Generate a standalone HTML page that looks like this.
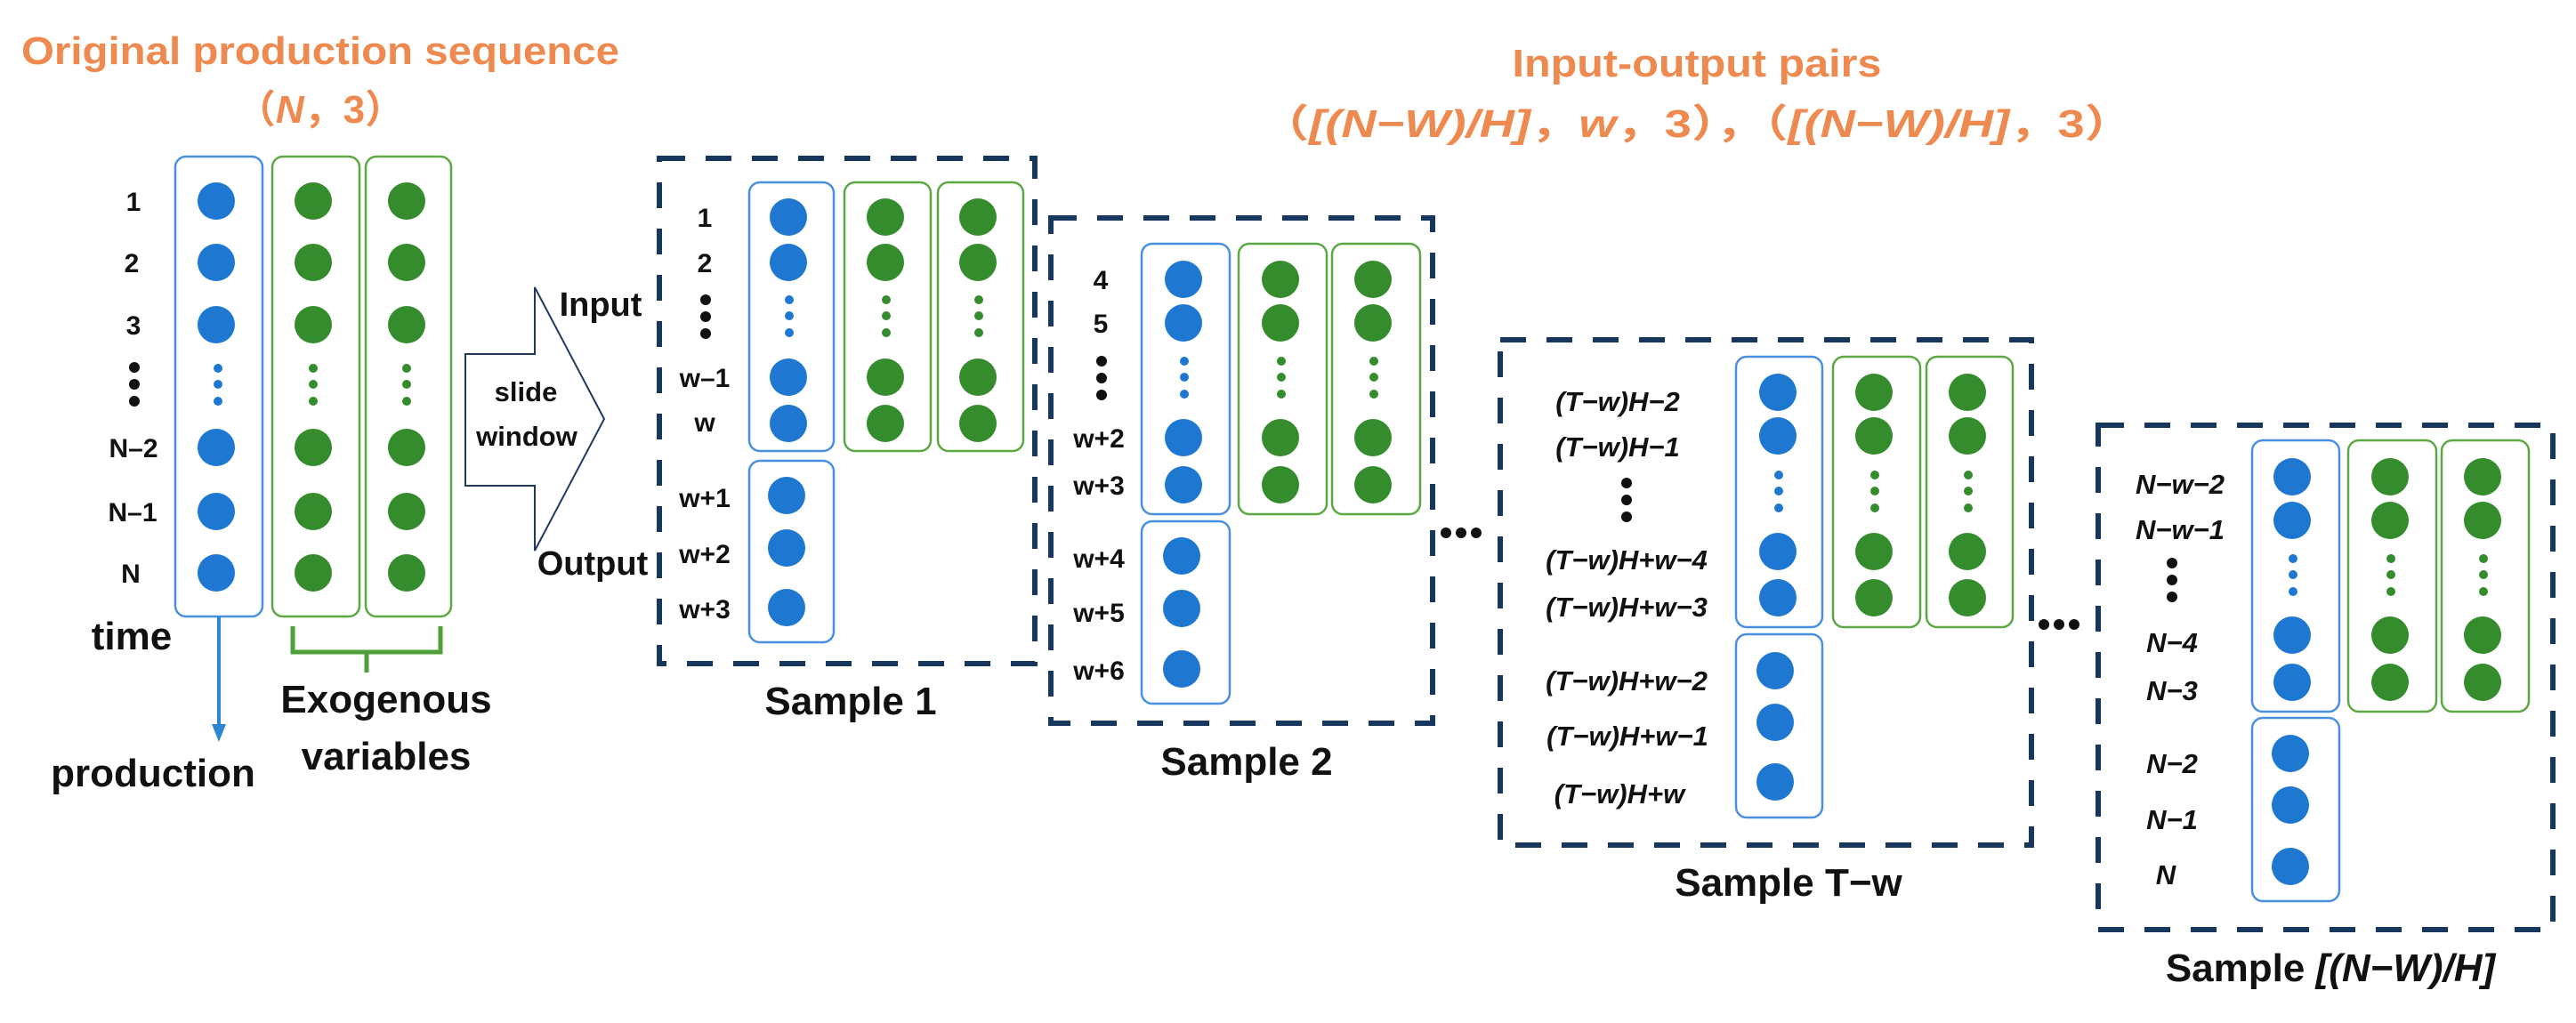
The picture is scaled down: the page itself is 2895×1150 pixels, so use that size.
<!DOCTYPE html>
<html><head><meta charset="utf-8"><style>
html,body{margin:0;padding:0;background:#fff;}
svg{display:block;}
text{font-family:"Liberation Sans","Noto Sans CJK SC",sans-serif;font-weight:bold;}
.o{fill:#EE8A4F;}
.l{font-size:30px;fill:#111;}
.i{font-size:31px;fill:#111;font-style:italic;}
.s{font-size:44px;fill:#111;}
</style></head><body>
<svg width="2895" height="1150" viewBox="0 0 2895 1150" xmlns="http://www.w3.org/2000/svg">
<defs>
<g id="bdots"><circle cx="0" cy="0" r="5" fill="#1E78D2"/><circle cx="0" cy="18" r="5" fill="#1E78D2"/><circle cx="0" cy="37" r="5" fill="#1E78D2"/></g>
<g id="gdots"><circle cx="0" cy="0" r="5" fill="#358C2C"/><circle cx="0" cy="18" r="5" fill="#358C2C"/><circle cx="0" cy="37" r="5" fill="#358C2C"/></g>
<g id="kdots"><circle cx="0" cy="0" r="6" fill="#111"/><circle cx="0" cy="19" r="6" fill="#111"/><circle cx="0" cy="38" r="6" fill="#111"/></g>
<g id="hdots"><circle cx="0" cy="0" r="6" fill="#111"/><circle cx="17" cy="0" r="6" fill="#111"/><circle cx="34" cy="0" r="6" fill="#111"/></g>
</defs>

<!-- Titles -->
<text class="o" x="360" y="72" font-size="44" text-anchor="middle" textLength="672" lengthAdjust="spacingAndGlyphs">Original production sequence</text>
<text class="o" x="360" y="138" font-size="44" text-anchor="middle">（<tspan font-style="italic">N</tspan>，3）</text>
<text class="o" x="1907" y="86" font-size="44" text-anchor="middle" textLength="415" lengthAdjust="spacingAndGlyphs">Input-output pairs</text>
<text class="o" x="1907" y="154" font-size="44" text-anchor="middle" textLength="980" lengthAdjust="spacingAndGlyphs">（<tspan font-style="italic">[(N−W)/H]</tspan>，<tspan font-style="italic">w</tspan>，3），（<tspan font-style="italic">[(N−W)/H]</tspan>，3）</text>

<!-- Left original sequence -->
<g fill="none" stroke-width="2.5">
<rect x="197" y="176" width="98" height="517" rx="12" stroke="#4A90E2"/>
<rect x="306" y="176" width="98" height="517" rx="12" stroke="#5DA845"/>
<rect x="411" y="176" width="96" height="517" rx="12" stroke="#5DA845"/>
</g>
<g fill="#1E78D2"><circle cx="243" cy="226" r="21"/><circle cx="243" cy="295" r="21"/><circle cx="243" cy="365" r="21"/><circle cx="243" cy="503" r="21"/><circle cx="243" cy="575" r="21"/><circle cx="243" cy="644" r="21"/></g>
<g fill="#358C2C"><circle cx="352" cy="226" r="21"/><circle cx="352" cy="295" r="21"/><circle cx="352" cy="365" r="21"/><circle cx="352" cy="503" r="21"/><circle cx="352" cy="575" r="21"/><circle cx="352" cy="644" r="21"/>
<circle cx="457" cy="226" r="21"/><circle cx="457" cy="295" r="21"/><circle cx="457" cy="365" r="21"/><circle cx="457" cy="503" r="21"/><circle cx="457" cy="575" r="21"/><circle cx="457" cy="644" r="21"/></g>
<use href="#bdots" x="245" y="414"/><use href="#gdots" x="352" y="414"/><use href="#gdots" x="457" y="414"/>
<g class="l" text-anchor="middle"><text x="150" y="237">1</text><text x="148" y="306">2</text><text x="150" y="376">3</text><text x="150" y="514">N–2</text><text x="149" y="586">N–1</text><text x="147" y="655">N</text></g>
<use href="#kdots" x="151" y="413"/>
<text class="s" x="148" y="730" text-anchor="middle">time</text>
<line x1="246" y1="693" x2="246" y2="818" stroke="#2D86D1" stroke-width="4"/>
<polygon points="238,814 254,814 246,834" fill="#2D86D1"/>
<text class="s" x="172" y="884" text-anchor="middle">production</text>
<path d="M329,704 V733 H495 V704 M412,733 V756" fill="none" stroke="#4F9F3A" stroke-width="5"/>
<text class="s" x="434" y="801" text-anchor="middle">Exogenous</text>
<text class="s" x="434" y="865" text-anchor="middle">variables</text>

<!-- Slide window arrow -->
<polygon points="523,398 601,398 601,323 679,471 601,619 601,546 523,546" fill="#fff" stroke="#1F3A5F" stroke-width="2"/>
<text x="591" y="451" font-size="31" text-anchor="middle" fill="#111">slide</text>
<text x="592" y="501" font-size="31" text-anchor="middle" fill="#111">window</text>
<text x="675" y="355" font-size="38" text-anchor="middle" fill="#111">Input</text>
<text x="666" y="646" font-size="38" text-anchor="middle" fill="#111">Output</text>

<!-- Dashed sample boxes -->
<g fill="none" stroke="#17375E" stroke-width="6" stroke-dasharray="29 23">
<rect x="741" y="178" width="422" height="568"/>
<rect x="1181" y="245" width="429" height="568"/>
<rect x="1686" y="382" width="597" height="568"/>
<rect x="2358" y="478" width="511" height="567"/>
</g>

<!-- Sample 1 -->
<g fill="none" stroke-width="2.5">
<rect x="842" y="205" width="95" height="302" rx="12" stroke="#4A90E2"/>
<rect x="949" y="205" width="97" height="302" rx="12" stroke="#5DA845"/>
<rect x="1054" y="205" width="96" height="302" rx="12" stroke="#5DA845"/>
<rect x="842" y="518" width="95" height="204" rx="12" stroke="#4A90E2"/>
</g>
<g fill="#1E78D2"><circle cx="886" cy="244" r="21"/><circle cx="886" cy="295" r="21"/><circle cx="886" cy="424" r="21"/><circle cx="886" cy="476" r="21"/><circle cx="884" cy="557" r="21"/><circle cx="884" cy="616" r="21"/><circle cx="884" cy="683" r="21"/></g>
<g fill="#358C2C"><circle cx="995" cy="244" r="21"/><circle cx="995" cy="295" r="21"/><circle cx="995" cy="424" r="21"/><circle cx="995" cy="476" r="21"/><circle cx="1099" cy="244" r="21"/><circle cx="1099" cy="295" r="21"/><circle cx="1099" cy="424" r="21"/><circle cx="1099" cy="476" r="21"/></g>
<use href="#bdots" x="887" y="337"/><use href="#gdots" x="996" y="337"/><use href="#gdots" x="1100" y="337"/>
<g class="l" text-anchor="middle"><text x="792" y="255">1</text><text x="792" y="306">2</text><text x="792" y="435">w–1</text><text x="792" y="485">w</text><text x="792" y="570">w+1</text><text x="792" y="633">w+2</text><text x="792" y="695">w+3</text></g>
<use href="#kdots" x="793" y="337"/>
<text class="s" x="956" y="803" text-anchor="middle">Sample 1</text>

<!-- Sample 2 -->
<g fill="none" stroke-width="2.5">
<rect x="1283" y="274" width="99" height="304" rx="12" stroke="#4A90E2"/>
<rect x="1392" y="274" width="99" height="304" rx="12" stroke="#5DA845"/>
<rect x="1497" y="274" width="99" height="304" rx="12" stroke="#5DA845"/>
<rect x="1283" y="586" width="99" height="205" rx="12" stroke="#4A90E2"/>
</g>
<g fill="#1E78D2"><circle cx="1330" cy="314" r="21"/><circle cx="1330" cy="363" r="21"/><circle cx="1330" cy="492" r="21"/><circle cx="1330" cy="545" r="21"/><circle cx="1328" cy="625" r="21"/><circle cx="1328" cy="684" r="21"/><circle cx="1328" cy="752" r="21"/></g>
<g fill="#358C2C"><circle cx="1439" cy="314" r="21"/><circle cx="1439" cy="363" r="21"/><circle cx="1439" cy="492" r="21"/><circle cx="1439" cy="545" r="21"/><circle cx="1543" cy="314" r="21"/><circle cx="1543" cy="363" r="21"/><circle cx="1543" cy="492" r="21"/><circle cx="1543" cy="545" r="21"/></g>
<use href="#bdots" x="1331" y="406"/><use href="#gdots" x="1440" y="406"/><use href="#gdots" x="1544" y="406"/>
<g class="l" text-anchor="middle"><text x="1237" y="325">4</text><text x="1237" y="374">5</text><text x="1235" y="503">w+2</text><text x="1235" y="556">w+3</text><text x="1235" y="638">w+4</text><text x="1235" y="699">w+5</text><text x="1235" y="764">w+6</text></g>
<use href="#kdots" x="1238" y="406"/>
<text class="s" x="1401" y="871" text-anchor="middle">Sample 2</text>
<use href="#hdots" x="1625" y="599"/>

<!-- Sample T-w -->
<g fill="none" stroke-width="2.5">
<rect x="1951" y="401" width="97" height="304" rx="12" stroke="#4A90E2"/>
<rect x="2060" y="401" width="98" height="304" rx="12" stroke="#5DA845"/>
<rect x="2165" y="401" width="97" height="304" rx="12" stroke="#5DA845"/>
<rect x="1951" y="713" width="97" height="206" rx="12" stroke="#4A90E2"/>
</g>
<g fill="#1E78D2"><circle cx="1998" cy="441" r="21"/><circle cx="1998" cy="490" r="21"/><circle cx="1998" cy="620" r="21"/><circle cx="1998" cy="672" r="21"/><circle cx="1995" cy="754" r="21"/><circle cx="1995" cy="812" r="21"/><circle cx="1995" cy="879" r="21"/></g>
<g fill="#358C2C"><circle cx="2106" cy="441" r="21"/><circle cx="2106" cy="490" r="21"/><circle cx="2106" cy="620" r="21"/><circle cx="2106" cy="672" r="21"/><circle cx="2211" cy="441" r="21"/><circle cx="2211" cy="490" r="21"/><circle cx="2211" cy="620" r="21"/><circle cx="2211" cy="672" r="21"/></g>
<use href="#bdots" x="1999" y="534"/><use href="#gdots" x="2107" y="534"/><use href="#gdots" x="2212" y="534"/>
<g class="i" text-anchor="middle"><text x="1818" y="462">(T−w)H−2</text><text x="1818" y="513">(T−w)H−1</text><text x="1828" y="640">(T−w)H+w−4</text><text x="1828" y="693">(T−w)H+w−3</text><text x="1828" y="776">(T−w)H+w−2</text><text x="1829" y="838">(T−w)H+w−1</text><text x="1820" y="903">(T−w)H+w</text></g>
<use href="#kdots" x="1828" y="543"/>
<text class="s" x="2010" y="1007" text-anchor="middle">Sample T−w</text>
<use href="#hdots" x="2297" y="702"/>

<!-- Sample N -->
<g fill="none" stroke-width="2.5">
<rect x="2531" y="495" width="98" height="305" rx="12" stroke="#4A90E2"/>
<rect x="2639" y="495" width="99" height="305" rx="12" stroke="#5DA845"/>
<rect x="2744" y="495" width="98" height="305" rx="12" stroke="#5DA845"/>
<rect x="2531" y="807" width="98" height="206" rx="12" stroke="#4A90E2"/>
</g>
<g fill="#1E78D2"><circle cx="2576" cy="536" r="21"/><circle cx="2576" cy="585" r="21"/><circle cx="2576" cy="714" r="21"/><circle cx="2576" cy="767" r="21"/><circle cx="2574" cy="847" r="21"/><circle cx="2574" cy="905" r="21"/><circle cx="2574" cy="974" r="21"/></g>
<g fill="#358C2C"><circle cx="2686" cy="536" r="21"/><circle cx="2686" cy="585" r="21"/><circle cx="2686" cy="714" r="21"/><circle cx="2686" cy="767" r="21"/><circle cx="2790" cy="536" r="21"/><circle cx="2790" cy="585" r="21"/><circle cx="2790" cy="714" r="21"/><circle cx="2790" cy="767" r="21"/></g>
<use href="#bdots" x="2577" y="628"/><use href="#gdots" x="2687" y="628"/><use href="#gdots" x="2791" y="628"/>
<g class="i" text-anchor="middle"><text x="2450" y="555">N−w−2</text><text x="2450" y="606">N−w−1</text><text x="2441" y="733">N−4</text><text x="2441" y="787">N−3</text><text x="2441" y="869">N−2</text><text x="2441" y="932">N−1</text><text x="2434" y="994">N</text></g>
<use href="#kdots" x="2441" y="633"/>
<text class="s" x="2619" y="1103" text-anchor="middle">Sample <tspan font-style="italic">[(N−W)/H]</tspan></text>
</svg>
</body></html>
